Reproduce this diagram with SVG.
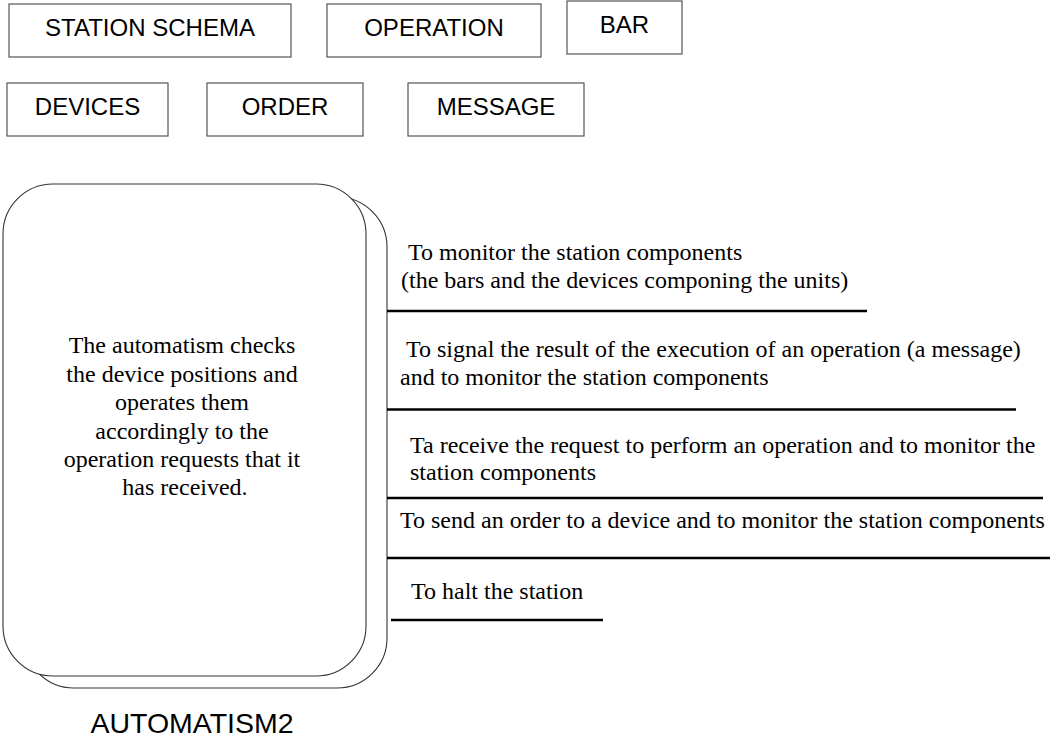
<svg xmlns="http://www.w3.org/2000/svg" width="1050" height="740" viewBox="0 0 1050 740">
<style>
.box{fill:#fff;stroke:#555;stroke-width:1.2}
.lbl{font-family:"Liberation Sans",Arial,sans-serif;font-size:24px;fill:#000;text-anchor:middle}
.card{fill:#fff;stroke:#333;stroke-width:1.1}
.ser{font-family:"Liberation Serif","Times New Roman",serif;font-size:24px;fill:#000}
.mid{text-anchor:middle}
.sep{stroke:#000;stroke-width:2.6;fill:none}
</style>
<rect width="1050" height="740" fill="#fff"/>
<g id="station-schema"><rect class="box" x="9" y="4" width="282" height="53"/><text class="lbl" x="150" y="36">STATION SCHEMA</text></g>
<g id="operation"><rect class="box" x="327" y="4" width="214" height="53"/><text class="lbl" x="434" y="36">OPERATION</text></g>
<g id="bar"><rect class="box" x="567" y="1" width="115" height="53"/><text class="lbl" x="624.5" y="33">BAR</text></g>
<g id="devices"><rect class="box" x="7" y="83" width="161" height="53"/><text class="lbl" x="87.5" y="115">DEVICES</text></g>
<g id="order"><rect class="box" x="207" y="83" width="156" height="53"/><text class="lbl" x="285" y="115">ORDER</text></g>
<g id="message"><rect class="box" x="408" y="83" width="176" height="53"/><text class="lbl" x="496" y="115">MESSAGE</text></g>
<g id="automatism2">
<rect class="card" x="24" y="197" width="363" height="491" rx="50" ry="50"/>
<rect class="card" x="3" y="184" width="363" height="492" rx="50" ry="50"/>
<text class="ser mid" x="185">
<tspan x="185" y="353">The automatism checks</tspan>
<tspan x="185" y="381.5">the device positions and</tspan>
<tspan x="185" y="410">operates them</tspan>
<tspan x="185" y="438.5">accordingly to the</tspan>
<tspan x="185" y="467">operation requests that it</tspan>
<tspan x="185" y="495">has received.</tspan>
</text>
<text class="lbl" x="192" y="733" style="font-size:28.5px">AUTOMATISM2</text>
</g>
<g id="connectors">
<line class="sep" x1="387" y1="311" x2="867" y2="311"/>
<line class="sep" x1="387" y1="409.5" x2="1016" y2="409.5"/>
<line class="sep" x1="387" y1="498" x2="1043" y2="498"/>
<line class="sep" x1="387" y1="558" x2="1050" y2="558"/>
<line class="sep" x1="391" y1="620" x2="603" y2="620"/>
</g>
<g id="interface-labels">
<text class="ser" x="408" y="260">To monitor the station components</text>
<text class="ser" x="401" y="288">(the bars and the devices componing the units)</text>
<text class="ser" x="406" y="357">To signal the result of the execution of an operation (a message)</text>
<text class="ser" x="400" y="385">and to monitor the station components</text>
<text class="ser" x="410" y="453">Ta receive the request to perform an operation and to monitor the</text>
<text class="ser" x="410" y="480">station components</text>
<text class="ser" x="400" y="528">To send an order to a device and to monitor the station components</text>
<text class="ser" x="411" y="599">To halt the station</text>
</g>
</svg>
